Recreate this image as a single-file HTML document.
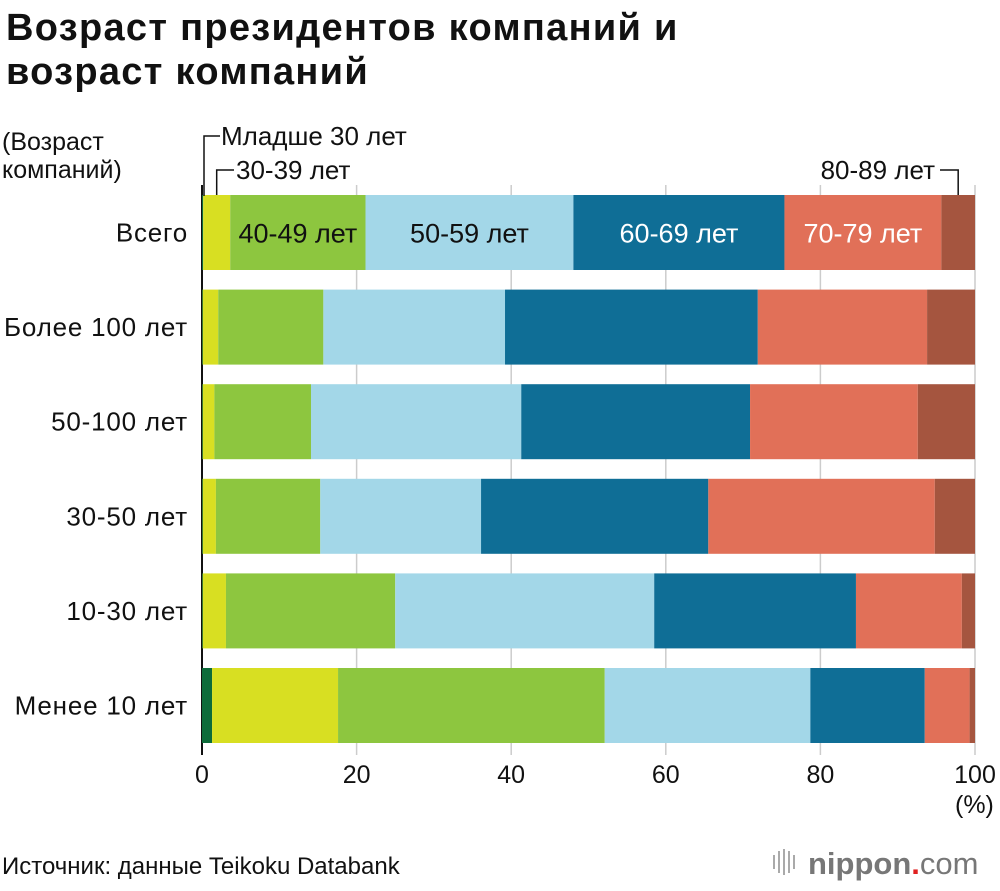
<!DOCTYPE html>
<html><head><meta charset="utf-8">
<style>
body{margin:0;background:#fff;width:1000px;height:886px;overflow:hidden;font-family:"Liberation Sans","DejaVu Sans",sans-serif}
svg text{font-family:"Liberation Sans","DejaVu Sans",sans-serif}
</style></head>
<body>
<svg id="chart" width="1000" height="886" xmlns="http://www.w3.org/2000/svg">
<text x="6" y="40" font-size="38" font-weight="bold" letter-spacing="1.3" fill="#111">Возраст президентов компаний и</text>
<text x="6" y="84" font-size="38" font-weight="bold" letter-spacing="1.3" fill="#111">возраст компаний</text>
<text x="2" y="150" font-size="25" fill="#111">(Возраст</text>
<text x="2" y="178" font-size="25" fill="#111">компаний)</text>
<text x="955" y="813" font-size="25" fill="#111">(%)</text>
<text x="2" y="874" font-size="24" fill="#111">Источник: данные Teikoku Databank</text>
<g>
<text x="808" y="874" font-size="31" font-weight="bold" fill="#777">nippon<tspan fill="#e02020">.</tspan><tspan font-weight="normal">com</tspan></text>
<rect x="773" y="855" width="2" height="14" fill="#aaa"/><rect x="778" y="851" width="2" height="22" fill="#aaa"/><rect x="783" y="849" width="2" height="26" fill="#aaa"/><rect x="788" y="851" width="2" height="22" fill="#aaa"/><rect x="793" y="855" width="2" height="14" fill="#aaa"/>
</g>
<g id="grid"></g><g id="bars"></g><g id="labels"></g>
</svg>
<script>
const categories=["Всего","Более 100 лет","50-100 лет","30-50 лет","10-30 лет","Менее 10 лет"];
const seriesNames=["Младше 30 лет","30-39 лет","40-49 лет","50-59 лет","60-69 лет","70-79 лет","80-89 лет"];
const under30=[0.15,0.1,0.1,0.1,0.1,1.3];
const s30_39=[3.5,2.0,1.5,1.7,3.0,16.3];
const s40_49=[17.5,13.6,12.5,13.5,21.9,34.5];
const s50_59=[26.9,23.5,27.2,20.8,33.5,26.6];
const s60_69=[27.3,32.7,29.6,29.4,26.1,14.8];
const s70_79=[20.3,21.9,21.7,29.3,13.7,5.8];
const s80_89=[4.35,6.2,7.4,5.2,1.7,0.7];
const xTicks=[0,20,40,60,80,100];
const colors=["#0d6b3a","#d8df22","#8dc63f","#a3d7e8","#0f6e96","#e17058","#a5553f"];
const series=[under30,s30_39,s40_49,s50_59,s60_69,s70_79,s80_89];
const NS="http://www.w3.org/2000/svg";
const x0=202,x1=975;
const xs=v=>x0+(x1-x0)*v/100;
const yTop=i=>195+i*94.6, barH=75;
function mk(tag,attrs,parent){const e=document.createElementNS(NS,tag);for(const k in attrs)e.setAttribute(k,attrs[k]);parent.appendChild(e);return e;}
const grid=document.getElementById('grid'),bars=document.getElementById('bars'),labels=document.getElementById('labels');
xTicks.forEach(t=>{
  const l=mk('line',{x1:xs(t),x2:xs(t),y1:185,y2:755,stroke:'#ccc','stroke-width':1.5},grid);
  
  
  const tx=mk('text',{x:xs(t),y:783,'font-size':25,'text-anchor':'middle',fill:'#111'},grid);
  tx.textContent=t;
  
  
});
categories.forEach((c,i)=>{
  let acc=0;
  series.forEach((s,j)=>{
    const v=s[i];
    const r=mk('rect',{x:xs(acc),y:yTop(i),width:xs(acc+v)-xs(acc),height:barH,fill:colors[j]},bars);
    
    
    acc+=v;
  });
  const t=mk('text',{x:188,y:yTop(i)+barH/2+9,'font-size':26,'letter-spacing':0.8,'text-anchor':'end',fill:'#111'},labels);
  t.textContent=c;
  
  
});
mk('line',{x1:x0,x2:x0,y1:185,y2:755,stroke:'#111','stroke-width':2},grid);
function cum(k){let a=0;for(let j=0;j<k;j++)a+=series[j][0];return a;}
[[2,'#111'],[3,'#111'],[4,'#fff'],[5,'#fff']].forEach(([j,col])=>{
  const mid=(xs(cum(j))+xs(cum(j+1)))/2;
  const t=mk('text',{x:mid,y:yTop(0)+barH/2+10,'font-size':27,'text-anchor':'middle',fill:col},labels);
  t.textContent=seriesNames[j];
  
  
});
const p1=mk('path',{d:`M${x0+2} 196 V136 H220`,stroke:'#111','stroke-width':1.5,fill:'none'},labels);


const t1=mk('text',{x:221,y:145,'font-size':26,fill:'#111'},labels);t1.textContent=seriesNames[0];


const m2=(xs(cum(1))+xs(cum(2)))/2;
const p2=mk('path',{d:`M${m2} 195 V170 H234`,stroke:'#111','stroke-width':1.5,fill:'none'},labels);


const t2=mk('text',{x:236,y:179,'font-size':26,fill:'#111'},labels);t2.textContent=seriesNames[1];


const m7=(xs(cum(6))+xs(100))/2;
const p3=mk('path',{d:`M${m7} 195 V170 H940`,stroke:'#111','stroke-width':1.5,fill:'none'},labels);


const t3=mk('text',{x:935,y:179,'font-size':26,'text-anchor':'end',fill:'#111'},labels);t3.textContent=seriesNames[6];


</script>
</body></html>
